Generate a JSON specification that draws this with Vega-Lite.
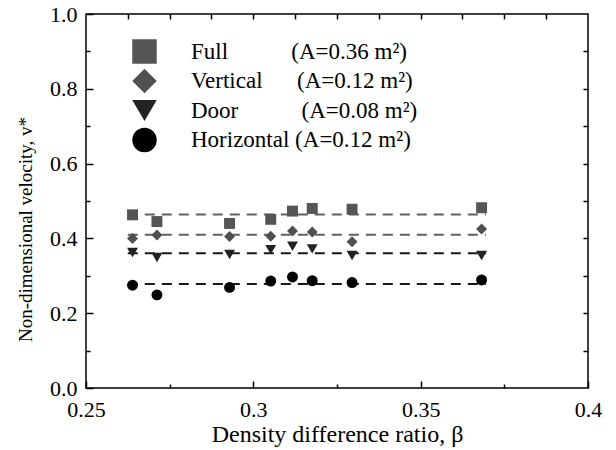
{
  "$schema": "https://vega.github.io/schema/vega-lite/v6.json",
  "width": 502,
  "height": 374,
  "autosize": {"type": "none"},
  "padding": {"left": 86, "top": 14, "right": 28, "bottom": 62},
  "background": "white",
  "datasets": {
    "pts": [
      {"series": "Full", "beta": 0.2639, "v": 0.463},
      {"series": "Full", "beta": 0.2712, "v": 0.445},
      {"series": "Full", "beta": 0.2929, "v": 0.440},
      {"series": "Full", "beta": 0.3052, "v": 0.451},
      {"series": "Full", "beta": 0.3117, "v": 0.473},
      {"series": "Full", "beta": 0.3176, "v": 0.480},
      {"series": "Full", "beta": 0.3295, "v": 0.478},
      {"series": "Full", "beta": 0.3682, "v": 0.482},
      {"series": "Vertical", "beta": 0.2639, "v": 0.400},
      {"series": "Vertical", "beta": 0.2712, "v": 0.409},
      {"series": "Vertical", "beta": 0.2929, "v": 0.405},
      {"series": "Vertical", "beta": 0.3052, "v": 0.406},
      {"series": "Vertical", "beta": 0.3117, "v": 0.420},
      {"series": "Vertical", "beta": 0.3176, "v": 0.417},
      {"series": "Vertical", "beta": 0.3295, "v": 0.391},
      {"series": "Vertical", "beta": 0.3682, "v": 0.425},
      {"series": "Door", "beta": 0.2639, "v": 0.362},
      {"series": "Door", "beta": 0.2712, "v": 0.349},
      {"series": "Door", "beta": 0.2929, "v": 0.357},
      {"series": "Door", "beta": 0.3052, "v": 0.370},
      {"series": "Door", "beta": 0.3117, "v": 0.379},
      {"series": "Door", "beta": 0.3176, "v": 0.372},
      {"series": "Door", "beta": 0.3295, "v": 0.354},
      {"series": "Door", "beta": 0.3682, "v": 0.354},
      {"series": "Horizontal", "beta": 0.2639, "v": 0.275},
      {"series": "Horizontal", "beta": 0.2712, "v": 0.249},
      {"series": "Horizontal", "beta": 0.2929, "v": 0.269},
      {"series": "Horizontal", "beta": 0.3052, "v": 0.286},
      {"series": "Horizontal", "beta": 0.3117, "v": 0.297},
      {"series": "Horizontal", "beta": 0.3176, "v": 0.287},
      {"series": "Horizontal", "beta": 0.3295, "v": 0.282},
      {"series": "Horizontal", "beta": 0.3682, "v": 0.289}
    ],
    "fit": [
      {"fitSeries": "Full", "b0": 0.2625, "b1": 0.3695, "v": 0.464},
      {"fitSeries": "Vertical", "b0": 0.2625, "b1": 0.3695, "v": 0.410},
      {"fitSeries": "Door", "b0": 0.2625, "b1": 0.3695, "v": 0.360},
      {"fitSeries": "Horizontal", "b0": 0.2625, "b1": 0.3695, "v": 0.278}
    ]
  },
  "layer": [
    {
      "data": {"name": "fit"},
      "transform": [{"filter": "datum.fitSeries == 'Full' || datum.fitSeries == 'Vertical'"}],
      "mark": {"type": "rule", "strokeDash": [10, 7], "strokeWidth": 2, "color": "#606060"},
      "encoding": {
        "x": {
          "field": "b0", "type": "quantitative",
          "scale": {"domain": [0.25, 0.4], "nice": false, "zero": false},
          "axis": {
            "orient": "bottom", "values": [0.25, 0.3, 0.35, 0.4], "format": "~g",
            "tickSize": -7, "labelPadding": 18, "labelFlush": false,
            "title": "Density difference ratio, β", "titlePadding": 2, "titleFontSize": 24
          }
        },
        "x2": {"field": "b1"},
        "y": {
          "field": "v", "type": "quantitative",
          "scale": {"domain": [0, 1], "nice": false, "zero": true},
          "axis": {
            "orient": "left", "values": [0, 0.2, 0.4, 0.6, 0.8, 1.0], "format": ".1f",
            "tickSize": -7, "labelPadding": 16, "labelFlush": false,
            "title": "Non-dimensional velocity, v*", "titlePadding": 14, "titleFontSize": 19, "titleY": 215
          }
        }
      }
    },
    {
      "data": {"name": "fit"},
      "transform": [{"filter": "datum.fitSeries == 'Door' || datum.fitSeries == 'Horizontal'"}],
      "mark": {"type": "rule", "strokeDash": [10, 7], "strokeWidth": 2, "color": "#1a1a1a"},
      "encoding": {
        "x": {
          "field": "b0", "type": "quantitative",
          "axis": {"orient": "top", "values": [0.2625, 0.275, 0.2875, 0.3, 0.3125, 0.325, 0.3375, 0.35, 0.3625, 0.375, 0.3875], "labels": false, "tickSize": -5, "title": null}
        },
        "x2": {"field": "b1"},
        "y": {
          "field": "v", "type": "quantitative",
          "axis": {"orient": "right", "values": [0.1, 0.2, 0.3, 0.4, 0.5, 0.6, 0.7, 0.8, 0.9], "labels": false, "tickSize": -5, "title": null}
        }
      }
    },
    {
      "data": {"name": "pts"},
      "mark": {"type": "point", "filled": true, "size": 120, "opacity": 1},
      "encoding": {
        "x": {
          "field": "beta", "type": "quantitative",
          "axis": {"orient": "bottom", "values": [0.275, 0.325, 0.375], "labels": false, "tickSize": -4, "title": null}
        },
        "y": {
          "field": "v", "type": "quantitative",
          "axis": {"orient": "left", "values": [0.1, 0.3, 0.5, 0.7, 0.9], "labels": false, "tickSize": -4, "title": null}
        },
        "shape": {
          "field": "series", "type": "nominal",
          "scale": {"domain": ["Full", "Vertical", "Door", "Horizontal"], "range": ["square", "diamond", "triangle-down", "circle"]},
          "legend": {
            "title": null, "orient": "none", "legendX": 46, "legendY": 25,
            "padding": 0, "symbolSize": 600, "symbolStrokeWidth": 0,
            "labelFont": "Liberation Serif", "labelFontSize": 23, "labelColor": "#000000",
            "labelOffset": 34, "rowPadding": 4.5, "labelLimit": 400,
            "labelExpr": "datum.label == 'Full' ? 'Full\u00a0\u00a0\u00a0\u00a0\u00a0\u00a0\u00a0\u00a0\u00a0\u00a0\u00a0(A=0.36 m²)' : datum.label == 'Vertical' ? 'Vertical\u00a0\u00a0\u00a0\u00a0\u00a0\u00a0(A=0.12 m²)' : datum.label == 'Door' ? 'Door\u00a0\u00a0\u00a0\u00a0\u00a0\u00a0\u00a0\u00a0\u00a0\u00a0\u00a0(A=0.08 m²)' : 'Horizontal\u00a0(A=0.12 m²)'"
          }
        },
        "color": {
          "field": "series", "type": "nominal",
          "scale": {"domain": ["Full", "Vertical", "Door", "Horizontal"], "range": ["#555555", "#505050", "#222222", "#000000"]},
          "legend": {
            "title": null, "orient": "none", "legendX": 46, "legendY": 25,
            "padding": 0, "symbolSize": 600, "symbolStrokeWidth": 0,
            "labelFont": "Liberation Serif", "labelFontSize": 23, "labelColor": "#000000",
            "labelOffset": 34, "rowPadding": 4.5, "labelLimit": 400,
            "labelExpr": "datum.label == 'Full' ? 'Full\u00a0\u00a0\u00a0\u00a0\u00a0\u00a0\u00a0\u00a0\u00a0\u00a0\u00a0(A=0.36 m²)' : datum.label == 'Vertical' ? 'Vertical\u00a0\u00a0\u00a0\u00a0\u00a0\u00a0(A=0.12 m²)' : datum.label == 'Door' ? 'Door\u00a0\u00a0\u00a0\u00a0\u00a0\u00a0\u00a0\u00a0\u00a0\u00a0\u00a0(A=0.08 m²)' : 'Horizontal\u00a0(A=0.12 m²)'"
          }
        }
      }
    }
  ],
  "resolve": {"axis": {"x": "independent", "y": "independent"}},
  "config": {
    "font": "Liberation Serif",
    "view": {"stroke": "#000000", "strokeWidth": 1.5},
    "axis": {
      "domain": false, "grid": false,
      "tickColor": "#000000", "tickWidth": 1.5,
      "labelFont": "Liberation Serif", "labelFontSize": 22, "labelColor": "#000000",
      "titleFont": "Liberation Serif", "titleFontSize": 22, "titleFontWeight": "normal", "titleColor": "#000000"
    }
  }
}
